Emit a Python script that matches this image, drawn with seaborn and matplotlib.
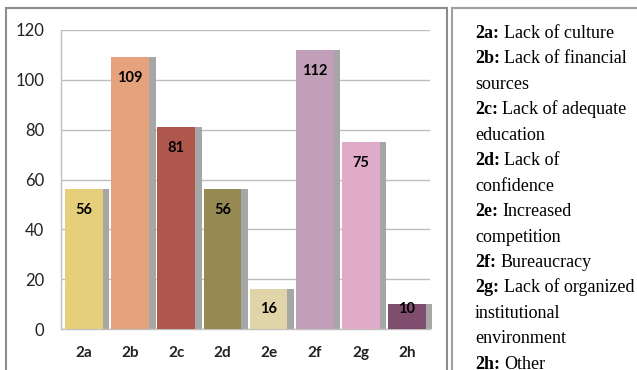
import matplotlib
matplotlib.use("Agg")
import matplotlib.pyplot as plt
import matplotlib.transforms as mtransforms
from matplotlib.patches import Rectangle
from matplotlib.font_manager import FontProperties
import seaborn as sns
import pandas as pd

categories = ["2a", "2b", "2c", "2d", "2e", "2f", "2g", "2h"]
values = [56, 109, 81, 56, 16, 112, 75, 10]
bar_colors = ["#E5CF7A", "#E6A27C", "#AF574C", "#968952",
              "#E0D5A9", "#C19FB9", "#DFABC9", "#7F4E6E"]
y_ticks = [0, 20, 40, 60, 80, 100, 120]

legend_keys = ["2a:", "2b:", None, "2c:", None, "2d:", None, "2e:", None,
               "2f:", "2g:", None, None, "2h:"]
legend_texts = ["Lack of culture", "Lack of financial", "sources",
                "Lack of adequate", "education", "Lack of", "confidence",
                "Increased", "competition", "Bureaucracy",
                "Lack of organized", "institutional", "environment", "Other"]

sns.set_theme(style="white")
plt.rcParams["font.family"] = ["Lato", "DejaVu Sans"]

W, H = 637, 370
fig = plt.figure(figsize=(W / 100, H / 100), dpi=100)
fig.patch.set_facecolor("white")

ax = fig.add_axes([61 / W, 1 - 329 / H, (430 - 61) / W, (329 - 30) / H])

df = pd.DataFrame({"cat": categories, "val": values})
sns.barplot(data=df, x="cat", y="val", hue="cat", palette=bar_colors,
            legend=False, width=0.82, saturation=1, ax=ax, zorder=3,
            edgecolor="none")

# grey drop-shadow behind each bar, shifted to the right
shadow_tr = mtransforms.offset_copy(ax.transData, fig=fig, x=6.5, y=0, units="dots")
for p in list(ax.patches):
    ax.add_patch(Rectangle((p.get_x(), 0), p.get_width(), p.get_height(),
                           transform=shadow_tr, facecolor="#A6A6A6",
                           edgecolor="none", zorder=2, clip_on=False))

# value labels just inside the bar tops
for i, v in enumerate(values):
    ax.text(i, max(v - 8.3, 8.0), str(v), ha="center", va="center",
            fontsize=10.5, fontweight="bold", color="black", zorder=4)

ax.set_xlim(-0.5, 7.5)
ax.set_ylim(0, 120)
ax.set_yticks(y_ticks)
ax.set_yticklabels([str(t) for t in y_ticks], fontsize=12, color="#222222")
ax.set_xticks(range(len(categories)))
ax.set_xticklabels(categories, fontsize=11, fontweight="bold", color="#222222")
ax.tick_params(axis="y", length=0, pad=12)
ax.tick_params(axis="x", length=0, pad=12)
ax.set_xlabel("")
ax.set_ylabel("")
ax.yaxis.grid(True, color="#BDBDBD", linewidth=1.0, zorder=0)
ax.set_axisbelow(True)
for side in ["top", "right"]:
    ax.spines[side].set_visible(False)
for side in ["left", "bottom"]:
    ax.spines[side].set_color("#C0C0C0")
    ax.spines[side].set_linewidth(1.0)
ax.set_facecolor("white")

# frames around chart and key
fig.add_artist(Rectangle((6 / W, -0.05), (447 - 6) / W, 1.05 - 8 / H,
                         transform=fig.transFigure, fill=False,
                         edgecolor="#8C8C8C", linewidth=1.5))
fig.add_artist(Rectangle((452 / W, -0.05), 0.5, 1.05 - 8 / H,
                         transform=fig.transFigure, fill=False,
                         edgecolor="#A0A0A0", linewidth=1.5))

# key text: bold code followed by regular description
fs = 13
fp_reg = FontProperties(family="Liberation Serif", size=fs)
fp_bold = FontProperties(family="Liberation Serif", size=fs, weight="bold")
x0 = 475 / W
gap = 4.5 / W
renderer = fig.canvas.get_renderer()
for i, (k, t) in enumerate(zip(legend_keys, legend_texts)):
    yb = 1 - (38 + 25.45 * i) / H
    if k is None:
        fig.text(x0, yb, t, fontproperties=fp_reg, va="baseline",
                 ha="left", color="black")
    else:
        bt = fig.text(x0, yb, k, fontproperties=fp_bold,
                      va="baseline", ha="left", color="black")
        x1 = bt.get_window_extent(renderer=renderer).x1 / W
        fig.text(x1 + gap, yb, t, fontproperties=fp_reg, va="baseline",
                 ha="left", color="black")

fig.savefig("out.png", dpi=100)
